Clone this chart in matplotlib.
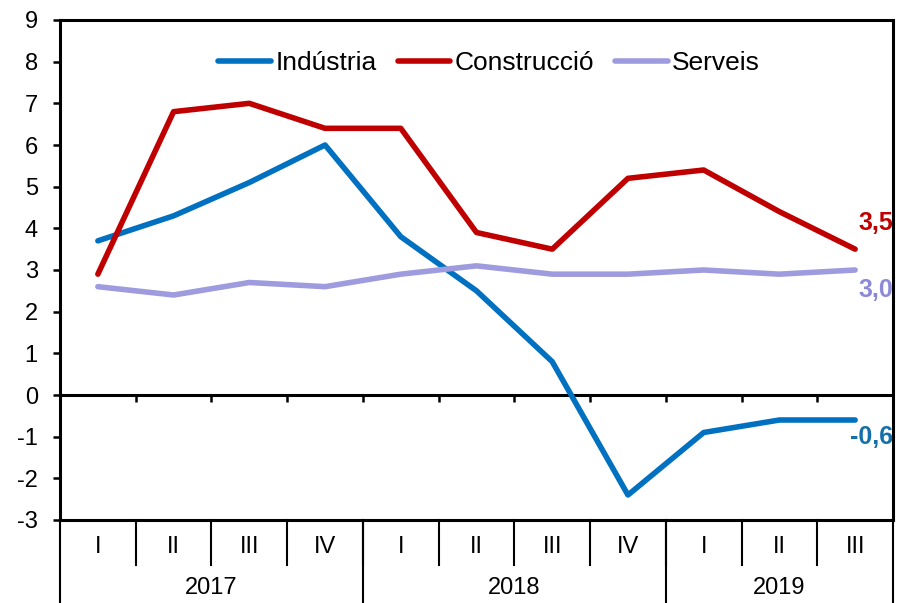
import numpy as np
import matplotlib.pyplot as plt
import matplotlib.transforms as mtransforms

plt.rcParams['font.family'] = ['Liberation Sans', 'DejaVu Sans']
plt.rcParams['axes.unicode_minus'] = False

# Dades
quarters = ['I', 'II', 'III', 'IV', 'I', 'II', 'III', 'IV', 'I', 'II', 'III']
years = ['2017', '2018', '2019']
year_counts = [4, 4, 3]
industria = [3.7, 4.3, 5.1, 6.0, 3.8, 2.5, 0.8, -2.4, -0.9, -0.6, -0.6]
construccio = [2.9, 6.8, 7.0, 6.4, 6.4, 3.9, 3.5, 5.2, 5.4, 4.4, 3.5]
serveis = [2.6, 2.4, 2.7, 2.6, 2.9, 3.1, 2.9, 2.9, 3.0, 2.9, 3.0]

c_ind = '#0070C0'
c_con = '#C00000'
c_ser = '#9E9BDE'

fig = plt.figure(figsize=(9.04, 6.03), dpi=100)
ax = fig.add_axes([60 / 904, 1 - 520 / 603, 833 / 904, 500 / 603])

x = np.arange(len(quarters))
lw = 4.0
ax.plot(x, industria, color=c_ind, lw=lw, label='Indústria', solid_capstyle='round', zorder=3)
ax.plot(x, construccio, color=c_con, lw=lw, label='Construcció', solid_capstyle='round', zorder=3)
ax.plot(x, serveis, color=c_ser, lw=lw, label='Serveis', solid_capstyle='round', zorder=3)

ax.set_xlim(-0.5, len(quarters) - 0.5)
ax.set_ylim(-3, 9)
ax.set_yticks(range(-3, 10))
ax.set_xticks([])
ax.tick_params(axis='y', labelsize=17, length=5, width=1.8, direction='out', pad=11)
for s in ax.spines.values():
    s.set_linewidth(2.2)

# linia del zero amb marques
ax.axhline(0, color='black', lw=2.2, zorder=2)
ax.vlines(x[:-1] + 0.5, -0.17, 0, color='black', lw=1.8)

# etiquetes finals
bt = mtransforms.blended_transform_factory(ax.transAxes, ax.transData)
ax.text(1.0, 4.12, '3,5', transform=bt, ha='right', va='center',
        color=c_con, fontsize=18, fontweight='bold')
ax.text(1.0, 2.52, '3,0', transform=bt, ha='right', va='center',
        color='#8C89D8', fontsize=18, fontweight='bold')
ax.text(1.0, -1.02, '-0,6', transform=bt, ha='right', va='center',
        color='#1470A8', fontsize=18, fontweight='bold')

# eix de categories (trimestres i anys)
tr = mtransforms.blended_transform_factory(ax.transData, ax.transAxes)
for i, q in enumerate(quarters):
    ax.text(i, -0.054, q, transform=tr, ha='center', va='center', fontsize=17)
for b in x[:-1] + 0.5:
    ax.plot([b, b], [0, -0.09], transform=tr, color='black', lw=1.5, clip_on=False)
edges = np.concatenate([[0], np.cumsum(year_counts)]) - 0.5
for e in edges:
    ax.plot([e, e], [0, -0.2], transform=tr, color='black', lw=1.5, clip_on=False)
for y, a, b in zip(years, edges[:-1], edges[1:]):
    ax.text((a + b) / 2, -0.136, y, transform=tr, ha='center', va='center', fontsize=17)

ax.legend(loc='center', bbox_to_anchor=(0.515, 0.914), ncol=3, frameon=False,
          fontsize=19, handlelength=2.0, handletextpad=0.15, columnspacing=0.8,
          borderaxespad=0)

fig.savefig('out.png', dpi=100)
